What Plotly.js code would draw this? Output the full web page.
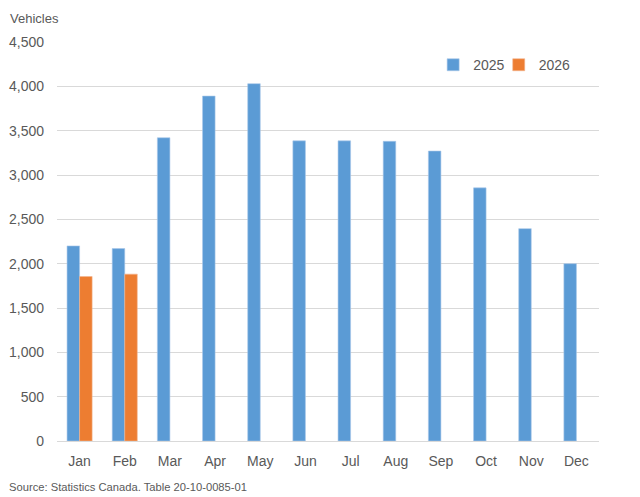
<!DOCTYPE html>
<html>
<head>
<meta charset="utf-8">
<script src="https://cdn.plot.ly/plotly-3.0.1.min.js"></script>
<style>html,body{margin:0;padding:0;background:#fff;}#chart{width:640px;height:497px;}</style>
</head>
<body>
<div id="chart"></div>
<script>
const months = ["Jan","Feb","Mar","Apr","May","Jun","Jul","Aug","Sep","Oct","Nov","Dec"];
const values2025 = [2200, 2170, 3420, 3890, 4030, 3385, 3385, 3380, 3270, 2855, 2395, 2000];
const months2026 = ["Jan","Feb"];
const values2026 = [1855, 1882];
const yTicks = [0, 500, 1000, 1500, 2000, 2500, 3000, 3500, 4000, 4500];

const FONT = '"Liberation Sans", Arial, sans-serif';
const GREY = '#595959';

const traces = [
  {type:'bar', name:'2025', x: months, y: values2025, legend:'legend',
   marker:{color:'#5B9BD5', line:{color:'#A9C8EA', width:0.6}}},
  {type:'bar', name:'2026', x: months2026, y: values2026, legend:'legend2',
   marker:{color:'#ED7D31', line:{color:'#F4B690', width:0.6}}}
];

const legendBase = {orientation:'h', xanchor:'left', y:0.942, yanchor:'middle',
  font:{family:FONT, size:14, color:GREY}, itemwidth:30, bgcolor:'rgba(0,0,0,0)'};

const layout = {
  width:640, height:497,
  margin:{l:57, r:41, t:42, b:56, pad:0},
  paper_bgcolor:'#fff', plot_bgcolor:'#fff',
  font:{family:FONT, size:14, color:GREY},
  barmode:'group', bargap:0.445, bargroupgap:0,
  showlegend:true,
  legend: Object.assign({}, legendBase, {x:0.694}),
  legend2: Object.assign({}, legendBase, {x:0.815}),
  xaxis:{categoryorder:'array', categoryarray: months, showgrid:false, zeroline:false,
         showline:true, linecolor:'#D9D9D9', linewidth:1, ticks:'',
         tickfont:{family:FONT, size:14, color:GREY}, ticklabelstandoff:7, fixedrange:true},
  yaxis:{range:[0,4500], tickvals: yTicks, tickformat:',d', showgrid:true, gridcolor:'#D9D9D9',
         gridwidth:1, zeroline:false, showline:false, ticks:'',
         tickfont:{family:FONT, size:14, color:GREY}, ticklabelstandoff:12, fixedrange:true},
  annotations:[
    {text:'Vehicles', xref:'paper', yref:'paper', x:-0.091, y:1.06, xanchor:'left', yanchor:'middle',
     showarrow:false, font:{family:FONT, size:13, color:GREY}},
    {text:'Source: Statistics Canada. Table 20-10-0085-01', xref:'paper', yref:'paper',
     x:-0.093, y:-0.115, xanchor:'left', yanchor:'middle', showarrow:false,
     font:{family:FONT, size:11.2, color:GREY}}
  ]
};

Plotly.newPlot('chart', traces, layout, {displayModeBar:false, staticPlot:true});
</script>
</body>
</html>
